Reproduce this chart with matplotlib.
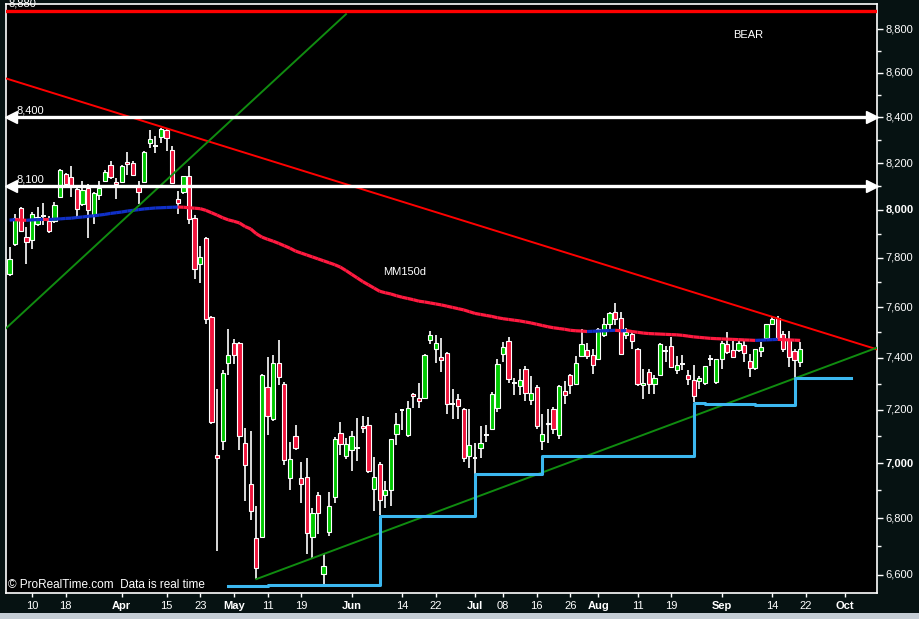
import numpy as np
import pandas as pd
import matplotlib
matplotlib.use("Agg")
import matplotlib.pyplot as plt
from matplotlib.patches import Rectangle
from matplotlib.collections import LineCollection

plt.rcParams['font.family'] = ['Liberation Sans', 'DejaVu Sans']

# trading days (market closed on Good Friday and Easter Monday)
days = pd.bdate_range("2010-03-04", "2010-10-29", freq="C",
                      holidays=["2010-04-02", "2010-04-05"])

opens = [7733, 7857, 8008, 7886, 7873, 7940, 7974, 7953, 7953, 8055,
         8153, 8140, 8089, 8025, 8093, 7979, 8063, 8123, 8193, 8119,
         8119, 8206, 8201, 8102, 8119, 8288, 8275, 8315, 8345, 8258,
         8046, 8076, 8145, 7966, 7774, 7882, 7562, 7029, 7082, 7380,
         7459, 7459, 7074, 6922, 6730, 6734, 7287, 7164, 7380, 7298,
         6944, 7100, 6944, 6948, 6734, 6885, 6604, 6752, 6878, 7112,
         7025, 7048, 7055, 7138, 7142, 6907, 6996, 6882, 6903, 7108,
         7199, 7104, 7260, 7245, 7245, 7471, 7435, 7404, 7420, 7221,
         7241, 7203, 7025, 7018, 7055, 7104, 7127, 7206, 7416, 7467,
         7302, 7291, 7357, 7237, 7287, 7082, 7149, 7203, 7104, 7272,
         7333, 7298, 7408, 7431, 7412, 7396, 7491, 7534, 7582, 7558,
         7491, 7495, 7435, 7295, 7345, 7298, 7333, 7428, 7447, 7353,
         7376, 7333, 7314, 7310, 7302, 7396, 7306, 7396, 7455, 7431,
         7431, 7451, 7388, 7361, 7428, 7479, 7534, 7558, 7495, 7471,
         7428, 7384]
highs = [7844, 7983, 8010, 7928, 7992, 8012, 8030, 7974, 8034, 8173,
         8158, 8188, 8091, 8123, 8110, 8074, 8123, 8171, 8210, 8136,
         8190, 8249, 8210, 8123, 8254, 8345, 8319, 8352, 8354, 8275,
         8080, 8145, 8188, 7979, 7848, 7886, 7564, 7279, 7353, 7514,
         7475, 7461, 7131, 7119, 6842, 7336, 7404, 7412, 7471, 7306,
         7078, 7142, 7003, 7018, 6838, 6896, 6674, 6896, 7097, 7153,
         7093, 7119, 7168, 7176, 7172, 7022, 7003, 6933, 7089, 7187,
         7203, 7233, 7264, 7302, 7414, 7507, 7491, 7479, 7424, 7279,
         7260, 7206, 7203, 7074, 7138, 7142, 7268, 7396, 7463, 7483,
         7322, 7357, 7369, 7330, 7295, 7183, 7203, 7210, 7293, 7310,
         7336, 7408, 7514, 7459, 7435, 7516, 7558, 7580, 7615, 7582,
         7518, 7503, 7439, 7357, 7357, 7333, 7457, 7447, 7483, 7408,
         7412, 7353, 7372, 7330, 7369, 7412, 7396, 7467, 7503, 7467,
         7467, 7467, 7416, 7435, 7463, 7534, 7562, 7566, 7507, 7507,
         7435, 7463]
lows = [7724, 7848, 7907, 7774, 7836, 7932, 7936, 7903, 7945, 8051,
        8102, 8055, 7966, 8017, 7882, 7940, 8042, 8119, 8132, 8046,
        8114, 8149, 8145, 8025, 8114, 8266, 8245, 8288, 8254, 8110,
        7983, 8068, 7940, 7712, 7696, 7534, 7146, 6684, 7048, 7333,
        7376, 7048, 6863, 6795, 6585, 6730, 7104, 7157, 7295, 6992,
        6903, 7048, 6856, 6673, 6659, 6745, 6565, 6738, 6856, 7029,
        7014, 6970, 7007, 7112, 6963, 6824, 6813, 6838, 6842, 7066,
        7123, 7097, 7206, 7206, 7243, 7455, 7380, 7345, 7183, 7164,
        7164, 7003, 6981, 6959, 7018, 7078, 7125, 7191, 7384, 7302,
        7256, 7256, 7233, 7218, 7127, 7048, 7074, 7108, 7089, 7221,
        7260, 7296, 7404, 7396, 7337, 7392, 7483, 7514, 7530, 7414,
        7475, 7435, 7291, 7241, 7260, 7260, 7331, 7384, 7361, 7337,
        7353, 7295, 7229, 7279, 7295, 7369, 7298, 7357, 7416, 7400,
        7424, 7384, 7326, 7353, 7404, 7475, 7530, 7475, 7424, 7365,
        7318, 7365]
closes = [7794, 7966, 7911, 7865, 7983, 7970, 7974, 7911, 8021, 8171,
          8110, 8106, 8004, 8085, 8000, 8072, 8093, 8162, 8140, 8110,
          8188, 8197, 8149, 8076, 8249, 8306, 8275, 8350, 8310, 8114,
          8029, 8145, 7961, 7753, 7802, 7554, 7153, 7018, 7341, 7412,
          7412, 7100, 6992, 6824, 6625, 7333, 7176, 7380, 7326, 7010,
          7014, 7055, 6922, 6748, 6820, 6820, 6632, 6845, 7089, 7070,
          7070, 7100, 7055, 7131, 6970, 6948, 6867, 6903, 7089, 7146,
          7199, 7206, 7252, 7233, 7412, 7491, 7459, 7392, 7221, 7221,
          7214, 7018, 7066, 7018, 7074, 7104, 7260, 7376, 7443, 7318,
          7302, 7314, 7264, 7264, 7138, 7108, 7146, 7127, 7291, 7256,
          7295, 7380, 7455, 7408, 7372, 7514, 7534, 7578, 7554, 7416,
          7503, 7467, 7298, 7302, 7298, 7322, 7455, 7428, 7365, 7372,
          7376, 7318, 7252, 7322, 7369, 7396, 7396, 7459, 7424, 7404,
          7459, 7420, 7361, 7435, 7443, 7534, 7554, 7479, 7435, 7404,
          7392, 7435]

# 150 day moving average
ma150 = [7957, 7959, 7957, 7956, 7958, 7959, 7960, 7959,
         7961, 7962, 7964, 7965, 7968, 7970, 7973, 7975, 7978, 7981, 7985,
         7988, 7991, 7995, 7998, 8001, 8004, 8006, 8008, 8009, 8010, 8011, 8012,
         8011, 8009, 8007, 8005, 7998, 7988, 7978, 7967, 7958, 7952, 7945,
         7930, 7920, 7900, 7886, 7877, 7869, 7860, 7850, 7840, 7828, 7820,
         7812, 7804, 7796, 7788, 7780, 7772, 7762, 7748, 7733, 7718, 7703, 7690,
         7677, 7664, 7658, 7653, 7646, 7640, 7635, 7630, 7624, 7621, 7617,
         7613, 7609, 7604, 7599, 7594, 7589, 7582, 7575, 7571, 7567, 7563,
         7558, 7554, 7551, 7548, 7545, 7541, 7537, 7532, 7527, 7522, 7518,
         7515, 7512, 7508, 7506, 7505, 7503,
         7504, 7505, 7506, 7507, 7508, 7506, 7507, 7503, 7500, 7497, 7495,
         7494, 7493, 7492, 7491, 7490, 7488, 7485, 7482, 7480, 7478, 7476,
         7475, 7474, 7473, 7472, 7471, 7470, 7469, 7468, 7469, 7470, 7471,
         7472, 7471, 7470, 7469, 7468]

# trailing stop (step line)
stop_dates = ["2010-04-30", "2010-05-11", "2010-06-08", "2010-07-01", "2010-07-19",
              "2010-08-25", "2010-08-27", "2010-09-09", "2010-09-20", "2010-10-04"]
stop_levels = [6562, 6566, 6809, 6962, 7025, 7226, 7222, 7218, 7322, 7322]

# trend lines: two anchor points each
red_trend = [("2010-03-04", 8569), ("2010-09-21", 7527)]
up_trend = [("2010-05-07", 6585), ("2010-09-21", 7328)]
steep_trend = [("2010-03-04", 7529), ("2010-04-09", 8039)]

levels_white = [8400, 8100]
level_red = 8884

tick_dates = ["2010-03-10", "2010-03-18", "2010-04-01", "2010-04-15", "2010-04-23",
              "2010-05-03", "2010-05-11", "2010-05-19", "2010-06-01", "2010-06-14",
              "2010-06-22", "2010-07-01", "2010-07-08", "2010-07-16", "2010-07-26",
              "2010-08-02", "2010-08-11", "2010-08-19", "2010-09-01", "2010-09-14",
              "2010-09-22", "2010-10-01"]
tick_labels = ["10", "18", "Apr", "15", "23", "May", "11", "19", "Jun", "14", "22",
               "Jul", "08", "16", "26", "Aug", "11", "19", "Sep", "14", "22", "Oct"]
months = {"Apr", "May", "Jun", "Jul", "Aug", "Sep", "Oct"}


def pos(d):
    return days.get_loc(pd.Timestamp(d))


bg = "#061212"
fig = plt.figure(figsize=(9.19, 6.19), dpi=100, facecolor=bg)
ax = fig.add_axes([6 / 919, 26 / 619, 871 / 919, 589 / 619])
ax.set_facecolor("black")
ax.set_yscale("log")
xmin, xmax = -0.64, 154.7
ax.set_xlim(xmin, xmax)
ax.set_ylim(6537, 8917)

red_c = "#f0143c"
green_c = "#00c800"

# candles
for k in range(len(opens)):
    o, h, l, c = opens[k], highs[k], lows[k], closes[k]
    ax.vlines(k, l, h, color="white", lw=1.2, zorder=3)
    if o == c:
        ax.hlines(o, k - 0.42, k + 0.42, color="white", lw=1.4, zorder=4)
    else:
        col = green_c if c > o else red_c
        ax.add_patch(Rectangle((k - 0.38, min(o, c)), 0.76, abs(c - o),
                               facecolor=col, edgecolor="white", lw=0.8, zorder=4))

# moving average, blue when rising, red when falling
segs, cols = [], []
for k in range(1, len(ma150)):
    segs.append([(k - 1, ma150[k - 1]), (k, ma150[k])])
    cols.append("#1030c8" if ma150[k] > ma150[k - 1] else "#ff1a40")
ax.add_collection(LineCollection(segs, colors=cols, linewidths=2.3, zorder=5, capstyle="butt"))


def trend(pts, x0, x1):
    (d1, p1), (d2, p2) = pts
    a, b = pos(d1), pos(d2)
    s = (np.log(p2) - np.log(p1)) / (b - a)
    xs = np.array([x0, x1])
    return xs, p1 * np.exp(s * (xs - a))


xs, ys = trend(red_trend, xmin, xmax)
ax.plot(xs, ys, color="#ff0000", lw=1.4, zorder=6)
xs, ys = trend(up_trend, pos(up_trend[0][0]), xmax)
ax.plot(xs, ys, color="#108c10", lw=1.4, zorder=6)
xs, ys = trend(steep_trend, xmin, 60)
ax.plot(xs, ys, color="#108c10", lw=1.4, zorder=6)

# stop line
ax.step([pos(d) for d in stop_dates], stop_levels, where="post",
        color="#3cb8f0", lw=2.2, zorder=6)

# horizontal levels
ax.axhline(level_red, color="#ff0000", lw=2.4, zorder=6)
ytr = ax.get_yaxis_transform()
ax.annotate("8,880", xy=(0.003, level_red), xycoords=ytr, xytext=(0, 1.5),
            textcoords="offset points", color="white", fontsize=8, va="bottom",
            annotation_clip=False)
for lev in levels_white:
    ax.plot([xmin + 1, xmax - 1], [lev, lev], color="white", lw=2.4, zorder=7)
    ax.plot(xmin + 0.95, lev, marker="<", ms=8, color="white", mec="white",
            clip_on=False, zorder=7)
    ax.plot(xmax - 0.95, lev, marker=">", ms=8, color="white", mec="white",
            clip_on=False, zorder=7)
    ax.annotate(f"{lev:,}", xy=(0.012, lev), xycoords=ytr, xytext=(0, 1.5),
                textcoords="offset points", color="white", fontsize=8, va="bottom")

ax.text(0.8347, 0.9474, "BEAR", transform=ax.transAxes, color="white",
        fontsize=8, va="center", ha="left")
ax.text(0.4328, 0.545, "MM150d", transform=ax.transAxes, color="white",
        fontsize=8, va="center", ha="left")
ax.text(0.002, 0.004, "© ProRealTime.com  Data is real time", transform=ax.transAxes,
        color="white", fontsize=8.5, va="bottom", ha="left", zorder=8)

# axes styling
for sp in ax.spines.values():
    sp.set_color("white")
    sp.set_linewidth(1.2)

ax.set_xticks([pos(d) for d in tick_dates])
ax.set_xticklabels(tick_labels)
for t in ax.get_xticklabels():
    t.set_color("white")
    t.set_fontsize(8)
    if t.get_text() in months:
        t.set_fontweight("bold")
ax.tick_params(axis="x", colors="white", length=3, width=1, pad=3)

yt = list(range(6600, 8801, 200))
ax.yaxis.tick_right()
ax.set_yticks(yt)
ax.set_yticklabels([f"{v:,}" for v in yt])
ax.set_yticks(list(range(6700, 8801, 200)), minor=True)
ax.yaxis.set_minor_formatter(matplotlib.ticker.NullFormatter())
for t in ax.get_yticklabels():
    t.set_color("white")
    t.set_fontsize(8)
    t.set_verticalalignment("center")
    if t.get_text() in ("7,000", "8,000"):
        t.set_fontweight("bold")
ax.tick_params(axis="y", which="major", colors="white", length=4, width=1, pad=2)
ax.tick_params(axis="y", which="minor", colors="white", length=3, width=1)

fig.patches.append(Rectangle((0, 0), 1, 6 / 619, transform=fig.transFigure,
                             facecolor="#c4ccd4", edgecolor="none"))

fig.savefig("out.png", dpi=100, facecolor=bg)
